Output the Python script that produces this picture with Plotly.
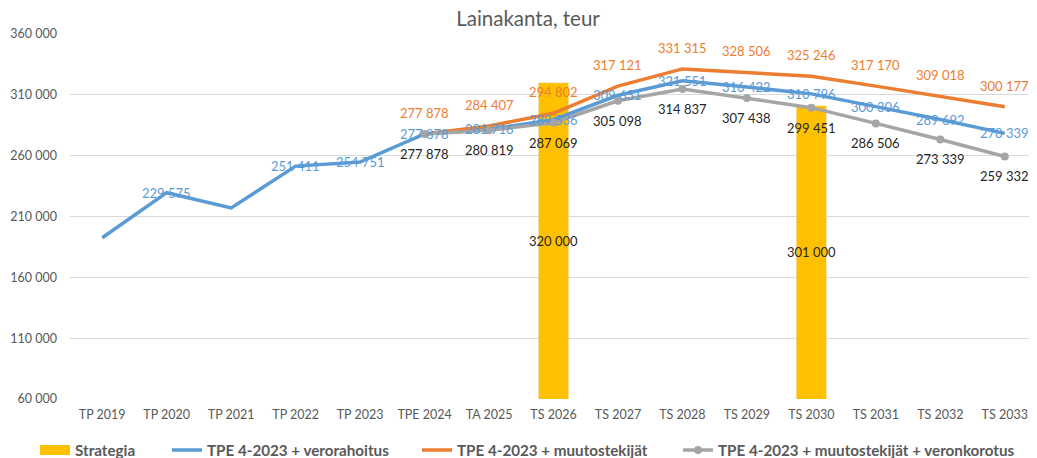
import plotly.graph_objects as go

categories = ["TP 2019", "TP 2020", "TP 2021", "TP 2022", "TP 2023", "TPE 2024", "TA 2025",
              "TS 2026", "TS 2027", "TS 2028", "TS 2029", "TS 2030", "TS 2031", "TS 2032", "TS 2033"]

strategia = [None, None, None, None, None, None, None, 320000, None, None, None, 301000, None, None, None]
verorahoitus = [192500, 229575, 217000, 251411, 254751, 277878, 281716, 289536, 309631, 321551,
                316422, 310796, 300306, 289692, 278339]
muutostekijat = [None, None, None, None, None, 277878, 284407, 294802, 317121, 331315,
                 328506, 325246, 317170, 309018, 300177]
veronkorotus = [None, None, None, None, None, 277878, 280819, 287069, 305098, 314837,
                307438, 299451, 286506, 273339, 259332]
blue_unlabeled = ["TP 2019", "TP 2021"]

y_min, y_max = 60000, 360000
FONT = "Lato"
BLUE, ORANGE, GRAY, GOLD = "#5B9BD5", "#ED7D31", "#A5A5A5", "#FFC000"

# the page body has an 8px margin; the figure is sized/offset to compensate
W, H = 1029, 450


def fmt(v):
    return f"{v:,}".replace(",", "\u00a0")


fig = go.Figure()
fig.add_trace(go.Bar(x=categories, y=strategia, name="Strategia", marker_color=GOLD,
                     width=0.47, showlegend=False))
# legend-only entry giving the wide swatch for the bar series
fig.add_trace(go.Scatter(x=[None], y=[None], name="Strategia", mode="lines",
                         line=dict(color=GOLD, width=14), legend="legend"))
fig.add_trace(go.Scatter(x=categories, y=verorahoitus, name="TPE 4-2023 + verorahoitus",
                         mode="lines", line=dict(color=BLUE, width=3.5), legend="legend2"))
fig.add_trace(go.Scatter(x=categories, y=muutostekijat, name="TPE 4-2023 + muutostekijät",
                         mode="lines", line=dict(color=ORANGE, width=3.5), legend="legend3"))
fig.add_trace(go.Scatter(x=categories, y=veronkorotus, name="TPE 4-2023 + muutostekijät + veronkorotus",
                         mode="lines+markers", line=dict(color=GRAY, width=3.5),
                         marker=dict(color=GRAY, size=8), legend="legend4"))

ann = []
for c, v in zip(categories, strategia):
    if v is not None:
        ann.append(dict(x=c, y=(v + y_min) / 2, text=fmt(v), showarrow=False,
                        font=dict(color="#262626", size=13, family=FONT)))
for c, v in zip(categories, verorahoitus):
    if v is not None and c not in blue_unlabeled:
        ann.append(dict(x=c, y=v, text=fmt(v), showarrow=False,
                        font=dict(color=BLUE, size=13, family=FONT)))
for c, v in zip(categories, muutostekijat):
    if v is not None:
        ann.append(dict(x=c, y=v, text=fmt(v), showarrow=False, yshift=21,
                        font=dict(color=ORANGE, size=13, family=FONT)))
for c, v in zip(categories, veronkorotus):
    if v is not None:
        ann.append(dict(x=c, y=v, text=fmt(v), showarrow=False, yshift=-20,
                        font=dict(color="#262626", size=13, family=FONT)))

leg_common = dict(orientation="h", xref="container", xanchor="left",
                  yref="container", yanchor="middle", y=(H - 442) / H,
                  font=dict(size=15.2, color="#595959", family=FONT, weight="bold"),
                  bgcolor="rgba(0,0,0,0)", borderwidth=0, tracegroupgap=0)
leg_x = [27, 159, 409, 670]

fig.update_layout(
    width=W, height=H,
    margin=dict(l=62, r=0, t=26, b=59),
    paper_bgcolor="white", plot_bgcolor="white",
    font=dict(family=FONT, size=12, color="#595959"),
    title=dict(text="Lainakanta, teur", x=520 / W, xref="container", xanchor="center",
               y=1 - 11 / H, yref="container", yanchor="middle",
               font=dict(size=20.5, color="#595959", family=FONT)),
    showlegend=True,
    legend=dict(x=leg_x[0] / W, **leg_common),
    legend2=dict(x=leg_x[1] / W, **leg_common),
    legend3=dict(x=leg_x[2] / W, **leg_common),
    legend4=dict(x=leg_x[3] / W, **leg_common),
    annotations=ann,
    separators=". ",
)
fig.update_xaxes(type="category", showgrid=False, showline=False, ticks="",
                 tickfont=dict(size=12.5, color="#595959"), range=[-0.5, 14.5],
                 ticklabelstandoff=6)
fig.update_yaxes(range=[y_min, y_max], tick0=60000, dtick=50000, showgrid=True,
                 gridcolor="#D9D9D9", gridwidth=1, zeroline=False, showline=False,
                 tickformat=",d", tickfont=dict(size=12.5, color="#595959"),
                 ticklabelstandoff=12)
fig.write_html("out.html")
